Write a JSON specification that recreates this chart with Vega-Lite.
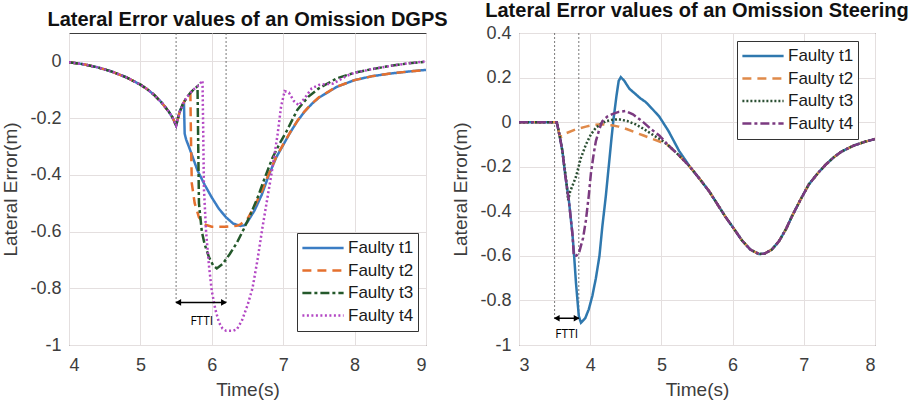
{
  "$schema": "https://vega.github.io/schema/vega-lite/v6.json",
  "padding": {"left": 1, "top": 0, "right": 5, "bottom": 5},
  "background": "white",
  "bounds": "flush",
  "spacing": 93,
  "config": {
    "view": {"stroke": "#3c3c3c", "strokeWidth": 1},
    "axis": {"labelFont": "Liberation Sans", "labelFontSize": 18, "labelColor": "#3d3d3d", "titleFont": "Liberation Sans", "titleFontSize": 19, "titleFontWeight": "normal", "titleColor": "#3d3d3d", "gridColor": "#e4dfdf", "gridWidth": 1, "ticks": false, "tickSize": 0, "domain": false, "labelPadding": 8, "titlePadding": 9},
    "axisX": {"labelPadding": 11, "titlePadding": 6},
    "title": {"font": "Liberation Sans", "fontSize": 20, "fontWeight": "bold", "color": "#111111", "offset": 3, "anchor": "middle", "frame": "group"},
    "legend": {"labelFont": "Liberation Sans", "labelFontSize": 17, "labelColor": "#1a1a1a", "strokeColor": "#333333", "fillColor": "white", "padding": 4, "symbolType": "stroke", "symbolSize": 1700, "symbolStrokeWidth": 2.5, "clipHeight": 22, "rowPadding": 0.5, "labelOffset": 3}
  },
  "datasets": {
    "L": [
      {"s":"Faulty t1","t":4.0,"v":-0.003},{"s":"Faulty t1","t":4.2,"v":-0.01},{"s":"Faulty t1","t":4.4,"v":-0.021},{"s":"Faulty t1","t":4.6,"v":-0.036},{"s":"Faulty t1","t":4.8,"v":-0.056},{"s":"Faulty t1","t":5.0,"v":-0.082},{"s":"Faulty t1","t":5.1,"v":-0.099},{"s":"Faulty t1","t":5.2,"v":-0.12},{"s":"Faulty t1","t":5.3,"v":-0.146},{"s":"Faulty t1","t":5.4,"v":-0.178},{"s":"Faulty t1","t":5.45,"v":-0.198},{"s":"Faulty t1","t":5.5,"v":-0.226},{"s":"Faulty t1","t":5.55,"v":-0.178},{"s":"Faulty t1","t":5.6,"v":-0.148},
      {"s":"Faulty t1","t":5.61,"v":-0.145},{"s":"Faulty t1","t":5.62,"v":-0.255},{"s":"Faulty t1","t":5.64,"v":-0.275},{"s":"Faulty t1","t":5.7,"v":-0.315},{"s":"Faulty t1","t":5.8,"v":-0.385},{"s":"Faulty t1","t":5.9,"v":-0.435},{"s":"Faulty t1","t":6.0,"v":-0.48},{"s":"Faulty t1","t":6.1,"v":-0.52},{"s":"Faulty t1","t":6.2,"v":-0.55},{"s":"Faulty t1","t":6.3,"v":-0.572},{"s":"Faulty t1","t":6.4,"v":-0.58},{"s":"Faulty t1","t":6.46,"v":-0.578},{"s":"Faulty t1","t":6.5,"v":-0.566},{"s":"Faulty t1","t":6.6,"v":-0.525},{"s":"Faulty t1","t":6.7,"v":-0.47},{"s":"Faulty t1","t":6.8,"v":-0.4},{"s":"Faulty t1","t":6.9,"v":-0.34},{"s":"Faulty t1","t":7.0,"v":-0.295},{"s":"Faulty t1","t":7.1,"v":-0.25},{"s":"Faulty t1","t":7.2,"v":-0.21},{"s":"Faulty t1","t":7.3,"v":-0.177},{"s":"Faulty t1","t":7.4,"v":-0.15},{"s":"Faulty t1","t":7.5,"v":-0.128},{"s":"Faulty t1","t":7.75,"v":-0.09},{"s":"Faulty t1","t":8.0,"v":-0.066},{"s":"Faulty t1","t":8.25,"v":-0.052},{"s":"Faulty t1","t":8.5,"v":-0.043},{"s":"Faulty t1","t":8.75,"v":-0.036},{"s":"Faulty t1","t":9.0,"v":-0.03},

      {"s":"Faulty t2","t":4.0,"v":-0.003},{"s":"Faulty t2","t":4.2,"v":-0.01},{"s":"Faulty t2","t":4.4,"v":-0.021},{"s":"Faulty t2","t":4.6,"v":-0.036},{"s":"Faulty t2","t":4.8,"v":-0.056},{"s":"Faulty t2","t":5.0,"v":-0.082},{"s":"Faulty t2","t":5.1,"v":-0.099},{"s":"Faulty t2","t":5.2,"v":-0.12},{"s":"Faulty t2","t":5.3,"v":-0.146},{"s":"Faulty t2","t":5.4,"v":-0.178},{"s":"Faulty t2","t":5.45,"v":-0.198},{"s":"Faulty t2","t":5.5,"v":-0.226},{"s":"Faulty t2","t":5.55,"v":-0.178},{"s":"Faulty t2","t":5.6,"v":-0.148},
      {"s":"Faulty t2","t":5.65,"v":-0.127},{"s":"Faulty t2","t":5.7,"v":-0.113},{"s":"Faulty t2","t":5.71,"v":-0.3},{"s":"Faulty t2","t":5.72,"v":-0.43},{"s":"Faulty t2","t":5.76,"v":-0.5},{"s":"Faulty t2","t":5.82,"v":-0.55},{"s":"Faulty t2","t":5.9,"v":-0.575},{"s":"Faulty t2","t":6.0,"v":-0.583},{"s":"Faulty t2","t":6.2,"v":-0.583},{"s":"Faulty t2","t":6.35,"v":-0.58},{"s":"Faulty t2","t":6.4,"v":-0.575},{"s":"Faulty t2","t":6.5,"v":-0.555},{"s":"Faulty t2","t":6.6,"v":-0.51},{"s":"Faulty t2","t":6.7,"v":-0.458},{"s":"Faulty t2","t":6.8,"v":-0.395},{"s":"Faulty t2","t":6.9,"v":-0.338},{"s":"Faulty t2","t":7.0,"v":-0.293},{"s":"Faulty t2","t":7.1,"v":-0.249},{"s":"Faulty t2","t":7.2,"v":-0.209},{"s":"Faulty t2","t":7.3,"v":-0.176},{"s":"Faulty t2","t":7.4,"v":-0.149},{"s":"Faulty t2","t":7.5,"v":-0.127},{"s":"Faulty t2","t":7.75,"v":-0.089},{"s":"Faulty t2","t":8.0,"v":-0.066},{"s":"Faulty t2","t":8.25,"v":-0.052},{"s":"Faulty t2","t":8.5,"v":-0.043},{"s":"Faulty t2","t":8.75,"v":-0.036},{"s":"Faulty t2","t":9.0,"v":-0.03},

      {"s":"Faulty t3","t":4.0,"v":-0.003},{"s":"Faulty t3","t":4.2,"v":-0.01},{"s":"Faulty t3","t":4.4,"v":-0.021},{"s":"Faulty t3","t":4.6,"v":-0.036},{"s":"Faulty t3","t":4.8,"v":-0.056},{"s":"Faulty t3","t":5.0,"v":-0.082},{"s":"Faulty t3","t":5.1,"v":-0.099},{"s":"Faulty t3","t":5.2,"v":-0.12},{"s":"Faulty t3","t":5.3,"v":-0.146},{"s":"Faulty t3","t":5.4,"v":-0.178},{"s":"Faulty t3","t":5.45,"v":-0.198},{"s":"Faulty t3","t":5.5,"v":-0.226},{"s":"Faulty t3","t":5.55,"v":-0.178},{"s":"Faulty t3","t":5.6,"v":-0.148},
      {"s":"Faulty t3","t":5.65,"v":-0.127},{"s":"Faulty t3","t":5.7,"v":-0.111},{"s":"Faulty t3","t":5.75,"v":-0.098},{"s":"Faulty t3","t":5.8,"v":-0.088},{"s":"Faulty t3","t":5.81,"v":-0.3},{"s":"Faulty t3","t":5.82,"v":-0.5},{"s":"Faulty t3","t":5.86,"v":-0.6},{"s":"Faulty t3","t":5.9,"v":-0.645},{"s":"Faulty t3","t":5.96,"v":-0.69},{"s":"Faulty t3","t":6.02,"v":-0.72},{"s":"Faulty t3","t":6.07,"v":-0.73},{"s":"Faulty t3","t":6.15,"v":-0.715},{"s":"Faulty t3","t":6.25,"v":-0.68},{"s":"Faulty t3","t":6.35,"v":-0.64},{"s":"Faulty t3","t":6.45,"v":-0.59},{"s":"Faulty t3","t":6.55,"v":-0.535},{"s":"Faulty t3","t":6.65,"v":-0.475},{"s":"Faulty t3","t":6.75,"v":-0.405},{"s":"Faulty t3","t":6.85,"v":-0.34},{"s":"Faulty t3","t":6.95,"v":-0.29},{"s":"Faulty t3","t":7.05,"v":-0.245},{"s":"Faulty t3","t":7.2,"v":-0.17},{"s":"Faulty t3","t":7.35,"v":-0.125},{"s":"Faulty t3","t":7.5,"v":-0.095},{"s":"Faulty t3","t":7.75,"v":-0.06},{"s":"Faulty t3","t":8.0,"v":-0.04},{"s":"Faulty t3","t":8.25,"v":-0.027},{"s":"Faulty t3","t":8.5,"v":-0.016},{"s":"Faulty t3","t":8.75,"v":-0.007},{"s":"Faulty t3","t":9.0,"v":-0.001},

      {"s":"Faulty t4","t":4.0,"v":-0.003},{"s":"Faulty t4","t":4.2,"v":-0.01},{"s":"Faulty t4","t":4.4,"v":-0.021},{"s":"Faulty t4","t":4.6,"v":-0.036},{"s":"Faulty t4","t":4.8,"v":-0.056},{"s":"Faulty t4","t":5.0,"v":-0.082},{"s":"Faulty t4","t":5.1,"v":-0.099},{"s":"Faulty t4","t":5.2,"v":-0.12},{"s":"Faulty t4","t":5.3,"v":-0.146},{"s":"Faulty t4","t":5.4,"v":-0.178},{"s":"Faulty t4","t":5.45,"v":-0.198},{"s":"Faulty t4","t":5.5,"v":-0.226},{"s":"Faulty t4","t":5.55,"v":-0.178},{"s":"Faulty t4","t":5.6,"v":-0.148},
      {"s":"Faulty t4","t":5.65,"v":-0.127},{"s":"Faulty t4","t":5.7,"v":-0.111},{"s":"Faulty t4","t":5.75,"v":-0.098},{"s":"Faulty t4","t":5.8,"v":-0.088},{"s":"Faulty t4","t":5.87,"v":-0.068},{"s":"Faulty t4","t":5.88,"v":-0.25},{"s":"Faulty t4","t":5.89,"v":-0.45},{"s":"Faulty t4","t":5.92,"v":-0.6},{"s":"Faulty t4","t":5.96,"v":-0.72},{"s":"Faulty t4","t":6.0,"v":-0.81},{"s":"Faulty t4","t":6.05,"v":-0.875},{"s":"Faulty t4","t":6.1,"v":-0.92},{"s":"Faulty t4","t":6.15,"v":-0.942},{"s":"Faulty t4","t":6.2,"v":-0.95},{"s":"Faulty t4","t":6.3,"v":-0.95},{"s":"Faulty t4","t":6.35,"v":-0.945},{"s":"Faulty t4","t":6.42,"v":-0.915},{"s":"Faulty t4","t":6.5,"v":-0.86},{"s":"Faulty t4","t":6.57,"v":-0.8},{"s":"Faulty t4","t":6.64,"v":-0.7},{"s":"Faulty t4","t":6.71,"v":-0.585},{"s":"Faulty t4","t":6.78,"v":-0.48},{"s":"Faulty t4","t":6.85,"v":-0.375},{"s":"Faulty t4","t":6.92,"v":-0.26},{"s":"Faulty t4","t":6.97,"v":-0.16},{"s":"Faulty t4","t":7.02,"v":-0.105},{"s":"Faulty t4","t":7.08,"v":-0.11},{"s":"Faulty t4","t":7.15,"v":-0.14},{"s":"Faulty t4","t":7.22,"v":-0.155},{"s":"Faulty t4","t":7.3,"v":-0.13},{"s":"Faulty t4","t":7.4,"v":-0.095},{"s":"Faulty t4","t":7.5,"v":-0.083},{"s":"Faulty t4","t":7.7,"v":-0.078},{"s":"Faulty t4","t":7.9,"v":-0.05},{"s":"Faulty t4","t":8.0,"v":-0.04},{"s":"Faulty t4","t":8.25,"v":-0.027},{"s":"Faulty t4","t":8.5,"v":-0.016},{"s":"Faulty t4","t":8.75,"v":-0.007},{"s":"Faulty t4","t":9.0,"v":0.0}
    ],
    "R": [
      {"s":"Faulty t1","t":3.0,"v":0},{"s":"Faulty t1","t":3.25,"v":0},{"s":"Faulty t1","t":3.5,"v":0},{"s":"Faulty t1","t":3.53,"v":0},{"s":"Faulty t1","t":3.57,"v":-0.06},{"s":"Faulty t1","t":3.61,"v":-0.13},
      {"s":"Faulty t1","t":3.65,"v":-0.24},{"s":"Faulty t1","t":3.7,"v":-0.35},{"s":"Faulty t1","t":3.75,"v":-0.5},{"s":"Faulty t1","t":3.77,"v":-0.58},{"s":"Faulty t1","t":3.8,"v":-0.72},{"s":"Faulty t1","t":3.84,"v":-0.87},{"s":"Faulty t1","t":3.87,"v":-0.9},{"s":"Faulty t1","t":3.93,"v":-0.88},{"s":"Faulty t1","t":3.98,"v":-0.84},{"s":"Faulty t1","t":4.03,"v":-0.78},{"s":"Faulty t1","t":4.08,"v":-0.7},{"s":"Faulty t1","t":4.13,"v":-0.6},{"s":"Faulty t1","t":4.17,"v":-0.47},{"s":"Faulty t1","t":4.22,"v":-0.33},{"s":"Faulty t1","t":4.26,"v":-0.2},{"s":"Faulty t1","t":4.3,"v":-0.07},{"s":"Faulty t1","t":4.33,"v":0.02},{"s":"Faulty t1","t":4.37,"v":0.12},{"s":"Faulty t1","t":4.4,"v":0.185},{"s":"Faulty t1","t":4.43,"v":0.202},{"s":"Faulty t1","t":4.48,"v":0.185},{"s":"Faulty t1","t":4.55,"v":0.15},{"s":"Faulty t1","t":4.64,"v":0.125},{"s":"Faulty t1","t":4.7,"v":0.108},{"s":"Faulty t1","t":4.78,"v":0.09},{"s":"Faulty t1","t":4.87,"v":0.06},{"s":"Faulty t1","t":4.97,"v":0.025},{"s":"Faulty t1","t":5.1,"v":-0.04},{"s":"Faulty t1","t":5.25,"v":-0.13},
      {"s":"Faulty t1","t":5.4,"v":-0.2},{"s":"Faulty t1","t":5.55,"v":-0.26},{"s":"Faulty t1","t":5.67,"v":-0.31},{"s":"Faulty t1","t":5.8,"v":-0.375},{"s":"Faulty t1","t":5.9,"v":-0.425},{"s":"Faulty t1","t":6.0,"v":-0.47},{"s":"Faulty t1","t":6.13,"v":-0.53},{"s":"Faulty t1","t":6.25,"v":-0.572},{"s":"Faulty t1","t":6.37,"v":-0.592},{"s":"Faulty t1","t":6.45,"v":-0.59},{"s":"Faulty t1","t":6.55,"v":-0.572},{"s":"Faulty t1","t":6.65,"v":-0.535},{"s":"Faulty t1","t":6.75,"v":-0.48},{"s":"Faulty t1","t":6.83,"v":-0.425},{"s":"Faulty t1","t":6.95,"v":-0.35},{"s":"Faulty t1","t":7.07,"v":-0.28},{"s":"Faulty t1","t":7.2,"v":-0.228},{"s":"Faulty t1","t":7.31,"v":-0.19},{"s":"Faulty t1","t":7.42,"v":-0.158},{"s":"Faulty t1","t":7.53,"v":-0.132},{"s":"Faulty t1","t":7.7,"v":-0.105},{"s":"Faulty t1","t":7.87,"v":-0.087},{"s":"Faulty t1","t":8.0,"v":-0.076},

      {"s":"Faulty t2","t":3.0,"v":0},{"s":"Faulty t2","t":3.25,"v":0},{"s":"Faulty t2","t":3.5,"v":0},{"s":"Faulty t2","t":3.53,"v":0},{"s":"Faulty t2","t":3.57,"v":-0.06},
      {"s":"Faulty t2","t":3.6,"v":-0.065},{"s":"Faulty t2","t":3.66,"v":-0.05},{"s":"Faulty t2","t":3.8,"v":-0.032},{"s":"Faulty t2","t":3.94,"v":-0.02},{"s":"Faulty t2","t":4.05,"v":-0.012},{"s":"Faulty t2","t":4.17,"v":-0.01},{"s":"Faulty t2","t":4.3,"v":-0.014},{"s":"Faulty t2","t":4.4,"v":-0.02},{"s":"Faulty t2","t":4.52,"v":-0.032},{"s":"Faulty t2","t":4.64,"v":-0.047},{"s":"Faulty t2","t":4.75,"v":-0.06},{"s":"Faulty t2","t":4.87,"v":-0.075},{"s":"Faulty t2","t":5.0,"v":-0.09},{"s":"Faulty t2","t":5.1,"v":-0.105},{"s":"Faulty t2","t":5.25,"v":-0.15},
      {"s":"Faulty t2","t":5.4,"v":-0.2},{"s":"Faulty t2","t":5.55,"v":-0.26},{"s":"Faulty t2","t":5.67,"v":-0.31},{"s":"Faulty t2","t":5.8,"v":-0.375},{"s":"Faulty t2","t":5.9,"v":-0.425},{"s":"Faulty t2","t":6.0,"v":-0.47},{"s":"Faulty t2","t":6.13,"v":-0.53},{"s":"Faulty t2","t":6.25,"v":-0.572},{"s":"Faulty t2","t":6.37,"v":-0.592},{"s":"Faulty t2","t":6.45,"v":-0.59},{"s":"Faulty t2","t":6.55,"v":-0.572},{"s":"Faulty t2","t":6.65,"v":-0.535},{"s":"Faulty t2","t":6.75,"v":-0.48},{"s":"Faulty t2","t":6.83,"v":-0.425},{"s":"Faulty t2","t":6.95,"v":-0.35},{"s":"Faulty t2","t":7.07,"v":-0.28},{"s":"Faulty t2","t":7.2,"v":-0.228},{"s":"Faulty t2","t":7.31,"v":-0.19},{"s":"Faulty t2","t":7.42,"v":-0.158},{"s":"Faulty t2","t":7.53,"v":-0.132},{"s":"Faulty t2","t":7.7,"v":-0.105},{"s":"Faulty t2","t":7.87,"v":-0.087},{"s":"Faulty t2","t":8.0,"v":-0.076},

      {"s":"Faulty t3","t":3.0,"v":0},{"s":"Faulty t3","t":3.25,"v":0},{"s":"Faulty t3","t":3.5,"v":0},{"s":"Faulty t3","t":3.53,"v":0},{"s":"Faulty t3","t":3.57,"v":-0.06},{"s":"Faulty t3","t":3.61,"v":-0.13},
      {"s":"Faulty t3","t":3.66,"v":-0.25},{"s":"Faulty t3","t":3.69,"v":-0.35},{"s":"Faulty t3","t":3.72,"v":-0.31},{"s":"Faulty t3","t":3.8,"v":-0.245},{"s":"Faulty t3","t":3.87,"v":-0.16},{"s":"Faulty t3","t":3.94,"v":-0.1},{"s":"Faulty t3","t":4.01,"v":-0.055},{"s":"Faulty t3","t":4.08,"v":-0.025},{"s":"Faulty t3","t":4.15,"v":-0.008},{"s":"Faulty t3","t":4.22,"v":0.004},{"s":"Faulty t3","t":4.3,"v":0.01},{"s":"Faulty t3","t":4.4,"v":0.013},{"s":"Faulty t3","t":4.52,"v":0.005},{"s":"Faulty t3","t":4.64,"v":-0.01},{"s":"Faulty t3","t":4.75,"v":-0.03},{"s":"Faulty t3","t":4.87,"v":-0.055},{"s":"Faulty t3","t":5.0,"v":-0.08},{"s":"Faulty t3","t":5.1,"v":-0.105},{"s":"Faulty t3","t":5.25,"v":-0.15},
      {"s":"Faulty t3","t":5.4,"v":-0.2},{"s":"Faulty t3","t":5.55,"v":-0.26},{"s":"Faulty t3","t":5.67,"v":-0.31},{"s":"Faulty t3","t":5.8,"v":-0.375},{"s":"Faulty t3","t":5.9,"v":-0.425},{"s":"Faulty t3","t":6.0,"v":-0.47},{"s":"Faulty t3","t":6.13,"v":-0.53},{"s":"Faulty t3","t":6.25,"v":-0.572},{"s":"Faulty t3","t":6.37,"v":-0.592},{"s":"Faulty t3","t":6.45,"v":-0.59},{"s":"Faulty t3","t":6.55,"v":-0.572},{"s":"Faulty t3","t":6.65,"v":-0.535},{"s":"Faulty t3","t":6.75,"v":-0.48},{"s":"Faulty t3","t":6.83,"v":-0.425},{"s":"Faulty t3","t":6.95,"v":-0.35},{"s":"Faulty t3","t":7.07,"v":-0.28},{"s":"Faulty t3","t":7.2,"v":-0.228},{"s":"Faulty t3","t":7.31,"v":-0.19},{"s":"Faulty t3","t":7.42,"v":-0.158},{"s":"Faulty t3","t":7.53,"v":-0.132},{"s":"Faulty t3","t":7.7,"v":-0.105},{"s":"Faulty t3","t":7.87,"v":-0.087},{"s":"Faulty t3","t":8.0,"v":-0.076},

      {"s":"Faulty t4","t":3.0,"v":0},{"s":"Faulty t4","t":3.25,"v":0},{"s":"Faulty t4","t":3.5,"v":0},{"s":"Faulty t4","t":3.53,"v":0},{"s":"Faulty t4","t":3.57,"v":-0.06},{"s":"Faulty t4","t":3.61,"v":-0.13},
      {"s":"Faulty t4","t":3.65,"v":-0.24},{"s":"Faulty t4","t":3.7,"v":-0.35},{"s":"Faulty t4","t":3.75,"v":-0.5},{"s":"Faulty t4","t":3.77,"v":-0.6},{"s":"Faulty t4","t":3.8,"v":-0.6},{"s":"Faulty t4","t":3.84,"v":-0.59},{"s":"Faulty t4","t":3.9,"v":-0.52},{"s":"Faulty t4","t":3.94,"v":-0.44},{"s":"Faulty t4","t":3.98,"v":-0.33},{"s":"Faulty t4","t":4.01,"v":-0.23},{"s":"Faulty t4","t":4.05,"v":-0.14},{"s":"Faulty t4","t":4.08,"v":-0.085},{"s":"Faulty t4","t":4.13,"v":-0.03},{"s":"Faulty t4","t":4.17,"v":0.004},{"s":"Faulty t4","t":4.24,"v":0.025},{"s":"Faulty t4","t":4.31,"v":0.036},{"s":"Faulty t4","t":4.4,"v":0.046},{"s":"Faulty t4","t":4.5,"v":0.05},{"s":"Faulty t4","t":4.6,"v":0.035},{"s":"Faulty t4","t":4.73,"v":0.004},{"s":"Faulty t4","t":4.85,"v":-0.03},{"s":"Faulty t4","t":4.97,"v":-0.06},{"s":"Faulty t4","t":5.1,"v":-0.105},{"s":"Faulty t4","t":5.25,"v":-0.15},
      {"s":"Faulty t4","t":5.4,"v":-0.2},{"s":"Faulty t4","t":5.55,"v":-0.26},{"s":"Faulty t4","t":5.67,"v":-0.31},{"s":"Faulty t4","t":5.8,"v":-0.375},{"s":"Faulty t4","t":5.9,"v":-0.425},{"s":"Faulty t4","t":6.0,"v":-0.47},{"s":"Faulty t4","t":6.13,"v":-0.53},{"s":"Faulty t4","t":6.25,"v":-0.572},{"s":"Faulty t4","t":6.37,"v":-0.592},{"s":"Faulty t4","t":6.45,"v":-0.59},{"s":"Faulty t4","t":6.55,"v":-0.572},{"s":"Faulty t4","t":6.65,"v":-0.535},{"s":"Faulty t4","t":6.75,"v":-0.48},{"s":"Faulty t4","t":6.83,"v":-0.425},{"s":"Faulty t4","t":6.95,"v":-0.35},{"s":"Faulty t4","t":7.07,"v":-0.28},{"s":"Faulty t4","t":7.2,"v":-0.228},{"s":"Faulty t4","t":7.31,"v":-0.19},{"s":"Faulty t4","t":7.42,"v":-0.158},{"s":"Faulty t4","t":7.53,"v":-0.132},{"s":"Faulty t4","t":7.7,"v":-0.105},{"s":"Faulty t4","t":7.87,"v":-0.087},{"s":"Faulty t4","t":8.0,"v":-0.076}
    ],
    "LV": [{"t":5.5,"v":0.1,"v2":-0.85},{"t":6.2,"v":0.1,"v2":-0.85}],
    "LA": [{"t":5.5,"t2":6.2,"v":-0.85}],
    "LH": [{"t":5.53,"v":-0.85,"sh":"triangle-left"},{"t":6.17,"v":-0.85,"sh":"triangle-right"}],
    "LT": [{"t":5.86,"v":-0.915,"label":"FTTI"}],
    "RV": [{"t":3.5,"v":0.4,"v2":-0.88},{"t":3.84,"v":0.4,"v2":-0.88}],
    "RA": [{"t":3.5,"t2":3.84,"v":-0.88}],
    "RH": [{"t":3.53,"v":-0.88,"sh":"triangle-left"},{"t":3.81,"v":-0.88,"sh":"triangle-right"}],
    "RT": [{"t":3.67,"v":-0.95,"label":"FTTI"}]
  },
  "hconcat": [
    {
      "width": 357,
      "height": 312,
      "title": "Lateral Error values of an Omission DGPS",
      "encoding": {
        "x": {"field": "t", "type": "quantitative", "title": "Time(s)", "scale": {"domain": [4, 9], "nice": false, "zero": false}, "axis": {"values": [4, 5, 6, 7, 8, 9], "grid": true}},
        "y": {"field": "v", "type": "quantitative", "title": "Lateral Error(m)", "scale": {"domain": [-1, 0.1], "nice": false, "zero": false}, "axis": {"values": [-1, -0.8, -0.6, -0.4, -0.2, 0], "grid": true, "labelExpr": "replace(format(datum.value, '~g'), '\u2212', '-')"}}
      },
      "layer": [
        {
          "data": {"name": "LV"},
          "mark": {"type": "rule", "strokeDash": [2, 2], "color": "#555555", "strokeWidth": 0.8},
          "encoding": {"y2": {"field": "v2"}}
        },
        {
          "data": {"name": "L"},
          "mark": {"type": "line", "strokeWidth": 2.5, "clip": true, "strokeCap": "butt"},
          "encoding": {
            "color": {"field": "s", "type": "nominal", "scale": {"domain": ["Faulty t1", "Faulty t2", "Faulty t3", "Faulty t4"], "range": ["#3B7DC4", "#E5702E", "#24592B", "#B347C4"]}, "legend": {"orient": "none", "legendX": 228, "legendY": 200, "title": null}},
            "strokeDash": {"field": "s", "type": "nominal", "scale": {"domain": ["Faulty t1", "Faulty t2", "Faulty t3", "Faulty t4"], "range": [[1, 0], [9, 6], [9, 3, 3, 3], [2, 2.5]]}, "legend": {"orient": "none", "legendX": 228, "legendY": 200, "title": null}}
          }
        },
        {
          "data": {"name": "LA"},
          "mark": {"type": "rule", "color": "black", "strokeWidth": 1.5},
          "encoding": {"x2": {"field": "t2"}}
        },
        {
          "data": {"name": "LH"},
          "mark": {"type": "point", "filled": true, "color": "black", "size": 45, "opacity": 1},
          "encoding": {"shape": {"field": "sh", "type": "nominal", "scale": null}}
        },
        {
          "data": {"name": "LT"},
          "mark": {"type": "text", "font": "Open Sans", "fontSize": 12, "color": "black", "align": "center", "baseline": "middle"},
          "encoding": {"text": {"field": "label"}}
        }
      ]
    },
    {
      "width": 356,
      "height": 312,
      "title": "Lateral Error values of an Omission Steering",
      "encoding": {
        "x": {"field": "t", "type": "quantitative", "title": "Time(s)", "scale": {"domain": [3, 8], "nice": false, "zero": false}, "axis": {"values": [3, 4, 5, 6, 7, 8], "grid": true}},
        "y": {"field": "v", "type": "quantitative", "title": "Lateral Error(m)", "scale": {"domain": [-1, 0.4], "nice": false, "zero": false}, "axis": {"values": [-1, -0.8, -0.6, -0.4, -0.2, 0, 0.2, 0.4], "grid": true, "labelExpr": "replace(format(datum.value, '~g'), '\u2212', '-')"}}
      },
      "layer": [
        {
          "data": {"name": "RV"},
          "mark": {"type": "rule", "strokeDash": [2, 2], "color": "#555555", "strokeWidth": 0.8},
          "encoding": {"y2": {"field": "v2"}}
        },
        {
          "data": {"name": "R"},
          "mark": {"type": "line", "strokeWidth": 2.5, "clip": true, "strokeCap": "butt"},
          "encoding": {
            "color": {"field": "s", "type": "nominal", "scale": {"domain": ["Faulty t1", "Faulty t2", "Faulty t3", "Faulty t4"], "range": ["#2F78AE", "#E08A4A", "#2B4F33", "#7B3A80"]}, "legend": {"orient": "none", "legendX": 218, "legendY": 8, "title": null}},
            "strokeDash": {"field": "s", "type": "nominal", "scale": {"domain": ["Faulty t1", "Faulty t2", "Faulty t3", "Faulty t4"], "range": [[1, 0], [9, 6], [2, 2], [9, 3, 3, 3]]}, "legend": {"orient": "none", "legendX": 218, "legendY": 8, "title": null}}
          }
        },
        {
          "data": {"name": "RA"},
          "mark": {"type": "rule", "color": "black", "strokeWidth": 1.5},
          "encoding": {"x2": {"field": "t2"}}
        },
        {
          "data": {"name": "RH"},
          "mark": {"type": "point", "filled": true, "color": "black", "size": 45, "opacity": 1},
          "encoding": {"shape": {"field": "sh", "type": "nominal", "scale": null}}
        },
        {
          "data": {"name": "RT"},
          "mark": {"type": "text", "font": "Open Sans", "fontSize": 12, "color": "black", "align": "center", "baseline": "middle"},
          "encoding": {"text": {"field": "label"}}
        }
      ]
    }
  ],
  "resolve": {"scale": {"color": "independent", "strokeDash": "independent"}, "legend": {"color": "independent", "strokeDash": "independent"}}
}
